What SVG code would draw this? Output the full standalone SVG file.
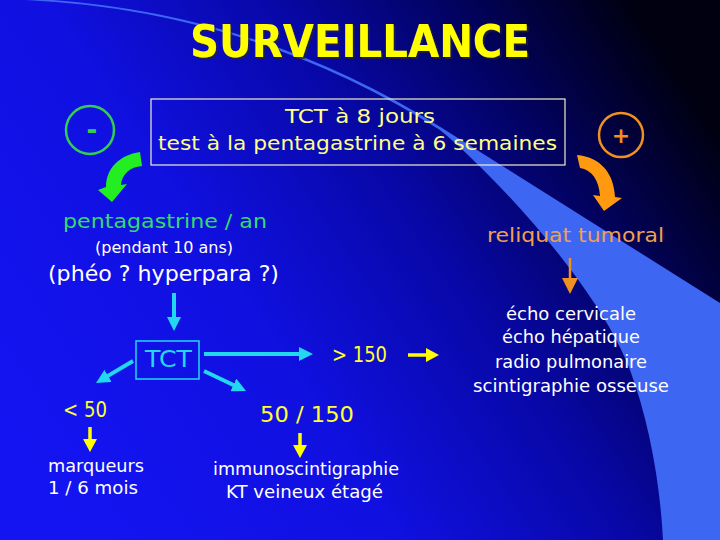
<svg xmlns="http://www.w3.org/2000/svg" width="720" height="540" viewBox="0 0 720 540">
<defs>
<linearGradient id="bg" x1="0" y1="0.75" x2="1" y2="0.25">
<stop offset="0" stop-color="#1414f2"/>
<stop offset="0.35" stop-color="#1010e0"/>
<stop offset="0.6" stop-color="#0808a8"/>
<stop offset="0.8" stop-color="#020260"/>
<stop offset="1" stop-color="#000010"/>
</linearGradient>
<filter id="sh" x="-5%" y="-20%" width="110%" height="140%">
<feDropShadow dx="2" dy="2" stdDeviation="0.6" flood-color="#202030" flood-opacity="0.7"/>
</filter>
<marker id="hc" markerUnits="userSpaceOnUse" markerWidth="14" markerHeight="14" viewBox="0 0 14 14" refX="7" refY="7" orient="auto"><path d="M0,0 L14,7 L0,14 Z" fill="#22d8f0"/></marker>
<marker id="hy" markerUnits="userSpaceOnUse" markerWidth="13" markerHeight="14" viewBox="0 0 13 14" refX="6" refY="7" orient="auto"><path d="M0,0 L13,7 L0,14 Z" fill="#ffff00"/></marker>
<marker id="ho" markerUnits="userSpaceOnUse" markerWidth="16" markerHeight="16" viewBox="0 0 16 16" refX="8" refY="8" orient="auto"><path d="M0,0 L16,8 L0,16 Z" fill="#f09020"/></marker>
</defs>
<style>
text{font-family:"DejaVu Sans","Liberation Sans",sans-serif}
.cy{stroke:#22d8f0;stroke-width:4;fill:none;marker-end:url(#hc)}
.ye{stroke:#ffff00;stroke-width:3.5;fill:none;marker-end:url(#hy)}
.or{stroke:#f09020;stroke-width:2.5;fill:none;marker-end:url(#ho)}
.w{fill:#ffffff;font-size:18px}
.y{fill:#ffff33;font-size:22px}
</style>
<rect x="0" y="0" width="720" height="540" fill="url(#bg)"/>
<path d="M -5,-1 Q 240,3 440,130 C 500,180 600,290 630,370 C 648,418 660,480 663,540 L 720,540 L 720,303 L 442,128 Q 240,0.5 -5,-2.5 Z" fill="#3d66f2"/>

<g id="title">
<text x="190" y="57" font-size="45" font-weight="bold" fill="#ffff00" filter="url(#sh)" textLength="340" lengthAdjust="spacingAndGlyphs">SURVEILLANCE</text>
</g>

<g id="box-test">
<rect x="151" y="99" width="414" height="66" fill="none" stroke="#f0f0c8" stroke-width="1.2"/>
<text x="285" y="123" font-size="20" fill="#ffff88" textLength="150" lengthAdjust="spacingAndGlyphs">TCT à 8 jours</text>
<text x="158" y="150" font-size="20" fill="#ffff88" textLength="399" lengthAdjust="spacingAndGlyphs">test à la pentagastrine à 6 semaines</text>
</g>

<g id="minus">
<circle cx="90" cy="130" r="24" fill="none" stroke="#33d050" stroke-width="2.5"/>
<text x="92" y="139" font-size="26" font-weight="bold" fill="#33d050" text-anchor="middle">-</text>
</g>

<g id="plus">
<circle cx="621" cy="135" r="22" fill="none" stroke="#f09020" stroke-width="2.5"/>
<text x="621" y="143" font-size="22" font-weight="bold" fill="#f09020" text-anchor="middle">+</text>
</g>

<g id="negative">
<text x="63" y="228" font-size="19" fill="#33dd66" textLength="204" lengthAdjust="spacingAndGlyphs">pentagastrine / an</text>
<text x="95" y="253" font-size="15" fill="#ffffff" textLength="138" lengthAdjust="spacingAndGlyphs">(pendant 10 ans)</text>
<text x="48" y="281" font-size="21" fill="#ffffff" textLength="231" lengthAdjust="spacingAndGlyphs">(phéo ? hyperpara ?)</text>
</g>

<g id="positive">
<text x="487" y="242" font-size="20" fill="#f0a050" textLength="177" lengthAdjust="spacingAndGlyphs">reliquat tumoral</text>
</g>

<g id="bilan">
<text class="w" x="506" y="320" textLength="130" lengthAdjust="spacingAndGlyphs">écho cervicale</text>
<text class="w" x="502" y="343" textLength="138" lengthAdjust="spacingAndGlyphs">écho hépatique</text>
<text class="w" x="495" y="368" textLength="152" lengthAdjust="spacingAndGlyphs">radio pulmonaire</text>
<text class="w" x="473" y="392" textLength="196" lengthAdjust="spacingAndGlyphs">scintigraphie osseuse</text>
</g>

<g id="tct">
<rect x="136" y="341" width="63" height="38" fill="none" stroke="#22d8f0" stroke-width="1.5"/>
<text x="145" y="367" font-size="23" fill="#22d8f0" textLength="47" lengthAdjust="spacingAndGlyphs">TCT</text>
</g>

<g id="sup150">
<text class="y" x="332" y="362" textLength="55" lengthAdjust="spacingAndGlyphs">&gt; 150</text>
</g>

<g id="inf50">
<text class="y" x="63" y="417" textLength="44" lengthAdjust="spacingAndGlyphs">&lt; 50</text>
</g>

<g id="mid">
<text class="y" x="260" y="422" textLength="94" lengthAdjust="spacingAndGlyphs">50 / 150</text>
</g>

<g id="marqueurs">
<text class="w" x="48" y="472" textLength="96" lengthAdjust="spacingAndGlyphs">marqueurs</text>
<text class="w" x="48" y="494" textLength="90" lengthAdjust="spacingAndGlyphs">1 / 6 mois</text>
</g>

<g id="immuno">
<text class="w" x="213" y="475" textLength="186" lengthAdjust="spacingAndGlyphs">immunoscintigraphie</text>
<text class="w" x="226" y="498" textLength="157" lengthAdjust="spacingAndGlyphs">KT veineux étagé</text>
</g>

<g id="connectors">
<path d="M140,152 L142,166 C130,167 122,174 121,185 L127,184 L112,202 L98,190 L106,187 C106,168 120,155 140,152 Z" fill="#22ee22"/>
<path d="M577,155 C600,157 614,173 615,197 L622,198 L604,211 L593,195 L600,196 C599,180 592,170 580,168 Z" fill="#ff9a10"/>
<line class="or" x1="570" y1="258" x2="570" y2="286"/>
<line class="cy" x1="174" y1="293" x2="174" y2="324"/>
<line class="cy" x1="204" y1="354" x2="306" y2="354"/>
<line class="cy" x1="204" y1="371" x2="239.7" y2="388"/>
<line class="cy" x1="133" y1="361" x2="102" y2="379.4"/>
<line class="ye" x1="408" y1="355" x2="432" y2="355"/>
<line class="ye" x1="90" y1="427" x2="90" y2="445"/>
<line class="ye" x1="300" y1="433" x2="300" y2="451"/>
</g>
</svg>
